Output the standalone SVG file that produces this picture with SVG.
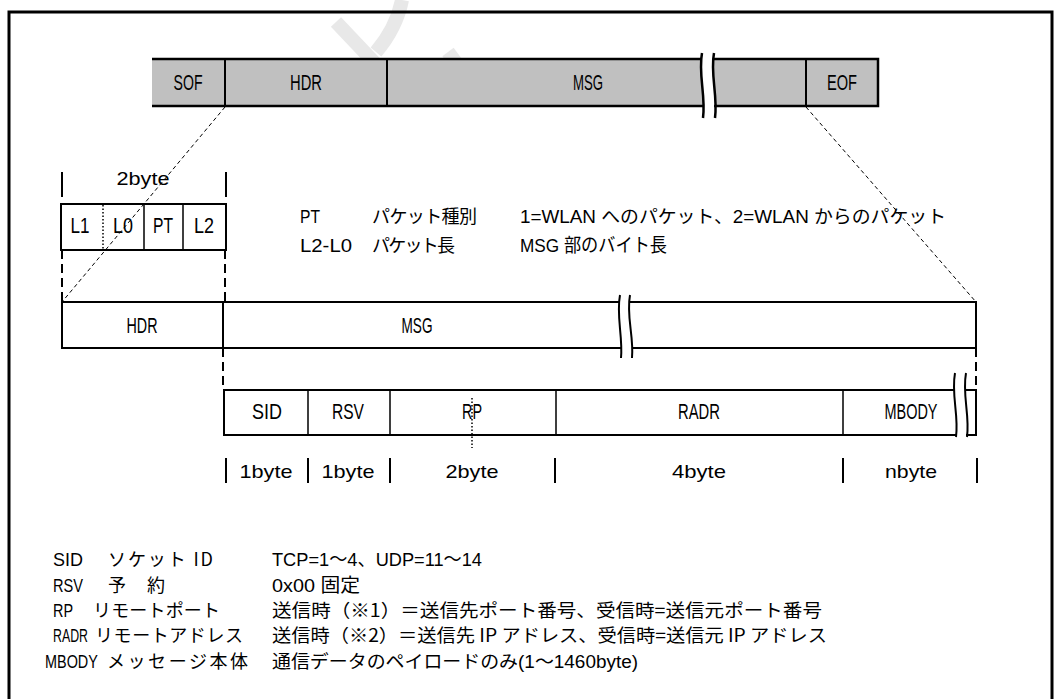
<svg xmlns="http://www.w3.org/2000/svg" width="1060" height="699" viewBox="0 0 1060 699">
<style>
.frame{fill:none;stroke:#000;stroke-width:3}
.ln{fill:none;stroke:#000;stroke-width:2.5}
.dv{fill:none;stroke:#000;stroke-width:2}
.thin{fill:none;stroke:#000;stroke-width:1.5}
.dot{fill:none;stroke:#000;stroke-width:1.5;stroke-dasharray:1.5 2}
.dash{fill:none;stroke:#000;stroke-width:1;stroke-dasharray:4 3}
.vd{fill:none;stroke:#000;stroke-width:2;stroke-dasharray:9 5}
.tk{fill:none;stroke:#000;stroke-width:2}
.wm{fill:none;stroke:#e8e8e8;stroke-width:14;stroke-linecap:butt}
.n{font-family:"Liberation Sans","DejaVu Sans",sans-serif;font-size:22px;text-anchor:middle;fill:#000}
.b{font-family:"Liberation Sans","DejaVu Sans",sans-serif;font-size:19px;text-anchor:middle;fill:#000}
.l{font-family:"Liberation Sans","Noto Sans CJK JP",sans-serif;font-size:19px;fill:#000}
.j{font-family:"Noto Sans CJK JP","Liberation Sans",sans-serif;font-size:18px;fill:#000}
.m{font-family:"Liberation Sans","Noto Sans CJK JP",sans-serif;font-size:18px;fill:#000}
</style>
<rect x="0" y="0" width="1060" height="699" fill="#fff"/>

<g id="watermark">
<path class="wm" d="M336,22 L406,96"/>
<path class="wm" d="M402,0 C398,20 388,38 376,52"/>
<path class="wm" d="M448,52 L476,90"/>
</g>

<rect class="frame" x="9" y="12" width="1043" height="700"/>

<g id="frame-bar">
<rect x="152" y="59" width="726" height="47" fill="#c0c0c0"/>
<path d="M702,52 C698,74 706,96 703,119 L715,119 C718,96 710,74 714,52 Z" fill="#fff"/>
<path class="ln" d="M152,59 H701 M714,59 H878 V106 H714 M703,106 H152 Z"/>
<path class="ln" d="M702,53 C698,74 706,96 703,118"/>
<path class="ln" d="M714,53 C710,74 718,96 715,118"/>
<path class="dv" d="M225,59 V106 M387,59 V106 M806,59 V106"/>
<text class="n" x="188" y="90" textLength="29" lengthAdjust="spacingAndGlyphs">SOF</text>
<text class="n" x="306" y="90" textLength="32" lengthAdjust="spacingAndGlyphs">HDR</text>
<text class="n" x="588" y="90" textLength="30" lengthAdjust="spacingAndGlyphs">MSG</text>
<text class="n" x="842" y="90" textLength="30" lengthAdjust="spacingAndGlyphs">EOF</text>
</g>

<g id="hdr-detail">
<path class="tk" d="M62,172 V197 M226,172 V197"/>
<text class="b" x="143" y="185" textLength="53" lengthAdjust="spacingAndGlyphs">2byte</text>
<rect class="dv" x="61" y="204" width="165" height="46"/>
<path class="dot" d="M103,205 V249"/>
<path class="thin" d="M144,204 V250 M183,204 V250"/>
<text class="n" x="80" y="233" textLength="19" lengthAdjust="spacingAndGlyphs">L1</text>
<text class="n" x="123" y="233" textLength="20" lengthAdjust="spacingAndGlyphs">L0</text>
<text class="n" x="163" y="233" textLength="20" lengthAdjust="spacingAndGlyphs">PT</text>
<text class="n" x="204" y="233" textLength="20" lengthAdjust="spacingAndGlyphs">L2</text>
</g>

<g id="hdr-legend">
<text class="l" x="300" y="223" textLength="20" lengthAdjust="spacingAndGlyphs">PT</text>
<text class="j" x="372" y="223" textLength="105">パケット種別</text>
<text class="m" x="520" y="223" textLength="426" lengthAdjust="spacingAndGlyphs">1=WLAN へのパケット、2=WLAN からのパケット</text>
<text class="l" x="300" y="252" textLength="52" lengthAdjust="spacingAndGlyphs">L2-L0</text>
<text class="j" x="372" y="252" textLength="83">パケット長</text>
<text class="l" x="520" y="252" textLength="147" lengthAdjust="spacingAndGlyphs">MSG 部のバイト長</text>
</g>

<g id="connectors">
<path class="dash" d="M225,107 L62,302"/>
<path class="dash" d="M806,107 L976,302"/>
<path class="vd" d="M62,250 V302 M225,250 V302"/>
<path class="vd" d="M223,348 V390"/>
<path class="vd" d="M976,348 V390"/>
<path class="dot" d="M472,398 V448"/>
</g>

<g id="packet-bar">
<path d="M614,294 C610,316 618,336 616,358 L634,358 C632,336 627,316 628,294 Z" fill="#fff"/>
<path class="dv" d="M619,302 H62 V348 H621 M632,348 H976 V302 H630"/>
<path class="dv" d="M620,295 C616,316 623,336 621,358"/>
<path class="dv" d="M630,295 C626,316 634,336 632,358"/>
<path class="dv" d="M223,302 V348"/>
<text class="n" x="142" y="333" textLength="31" lengthAdjust="spacingAndGlyphs">HDR</text>
<text class="n" x="417" y="333" textLength="31" lengthAdjust="spacingAndGlyphs">MSG</text>
</g>

<g id="msg-fields">
<path class="dv" d="M955,390 H224 V435 H956 M966,435 H976 V390 H966"/>
<path class="dv" d="M955,373 C951,395 959,415 956,437"/>
<path class="dv" d="M966,373 C962,395 970,415 967,437"/>
<path class="thin" d="M308,390 V435 M390,390 V435 M556,390 V435 M843,390 V435"/>
<text class="n" x="267" y="419" textLength="30" lengthAdjust="spacingAndGlyphs">SID</text>
<text class="n" x="348" y="419" textLength="32" lengthAdjust="spacingAndGlyphs">RSV</text>
<text class="n" x="472" y="419" textLength="20" lengthAdjust="spacingAndGlyphs">RP</text>
<text class="n" x="699" y="419" textLength="42" lengthAdjust="spacingAndGlyphs">RADR</text>
<text class="n" x="911" y="419" textLength="53" lengthAdjust="spacingAndGlyphs">MBODY</text>
</g>

<g id="byte-sizes">
<path class="tk" d="M226,458 V483 M308,458 V483 M390,458 V483 M555,458 V483 M843,458 V483 M977,458 V483"/>
<text class="b" x="266" y="478" textLength="53" lengthAdjust="spacingAndGlyphs">1byte</text>
<text class="b" x="348" y="478" textLength="53" lengthAdjust="spacingAndGlyphs">1byte</text>
<text class="b" x="472" y="478" textLength="53" lengthAdjust="spacingAndGlyphs">2byte</text>
<text class="b" x="699" y="478" textLength="54" lengthAdjust="spacingAndGlyphs">4byte</text>
<text class="b" x="911" y="478" textLength="52" lengthAdjust="spacingAndGlyphs">nbyte</text>
</g>

<g id="msg-legend">
<text class="l" x="53" y="566" textLength="30" lengthAdjust="spacingAndGlyphs">SID</text>
<text class="j" x="108" y="566" textLength="105">ソケット ID</text>
<text class="l" x="272" y="566" textLength="210" lengthAdjust="spacingAndGlyphs">TCP=1～4、UDP=11～14</text>
<text class="l" x="53" y="592" textLength="30" lengthAdjust="spacingAndGlyphs">RSV</text>
<text class="j" x="108" y="592" textLength="57">予約</text>
<text class="l" x="272" y="592" textLength="88" lengthAdjust="spacingAndGlyphs">0x00 固定</text>
<text class="l" x="53" y="617" textLength="20" lengthAdjust="spacingAndGlyphs">RP</text>
<text class="j" x="93" y="617" textLength="127">リモートポート</text>
<text class="j" x="272" y="617" textLength="550" lengthAdjust="spacingAndGlyphs">送信時（※1）＝送信先ポート番号、受信時=送信元ポート番号</text>
<text class="l" transform="translate(53,642) scale(0.65,1)">RADR</text>
<text class="j" x="95" y="642" textLength="148">リモートアドレス</text>
<text class="j" x="272" y="642" textLength="555" lengthAdjust="spacingAndGlyphs">送信時（※2）＝送信先 IP アドレス、受信時=送信元 IP アドレス</text>
<text class="l" transform="translate(45,668) scale(0.76,1)">MBODY</text>
<text class="j" x="107" y="668" textLength="141">メッセージ本体</text>
<text class="m" x="272" y="668" textLength="366" lengthAdjust="spacingAndGlyphs">通信データのペイロードのみ(1～1460byte)</text>
</g>
</svg>
